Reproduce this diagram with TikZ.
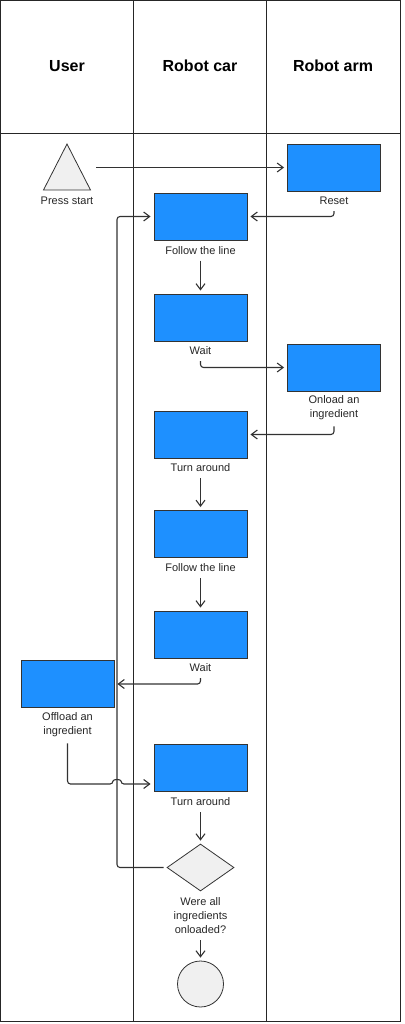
\documentclass[tikz,border=0pt]{standalone}
\usepackage{fontspec}
\setmainfont{Liberation Sans}
\usetikzlibrary{arrows.meta,shapes.geometric}
\definecolor{boxblue}{RGB}{30,144,255}
\definecolor{shapegray}{RGB}{240,240,240}
\definecolor{linegray}{RGB}{50,50,50}
\begin{document}
\begin{tikzpicture}[x=1pt,y=-1pt,
  lane/.style={draw=black!85, line width=1pt},
  head/.style={font=\fontsize{16}{18}\selectfont\bfseries, text=black},
  actbox/.style={draw=black!80, fill=boxblue, minimum width=93pt, minimum height=47pt, inner sep=0pt, line width=0.9pt},
  lbl/.style={font=\fontsize{11}{14}\selectfont, text=black!85, align=center, inner sep=1pt},
  misc/.style={draw=black!80, fill=shapegray, line width=0.8pt, inner sep=0pt},
  arr/.style={draw=linegray, line width=1.1pt, -{Straight Barb[length=6pt,width=9pt]}, rounded corners=3pt, shorten <=5pt, shorten >=3pt}
]
\useasboundingbox (0,0) rectangle (404,1024);
% lanes
\draw[lane] (0.5,0.5) rectangle (400.5,1021);
\draw[lane] (133.5,0.5) -- (133.5,1021);
\draw[lane] (266.5,0.5) -- (266.5,1021);
\draw[lane] (0.5,133.5) -- (400.5,133.5);
\node[head] (hu) at (67,66) {User};
\node[head] (hc) at (200,66) {Robot car};
\node[head] (ha) at (333,66) {Robot arm};
% start triangle
\draw[misc] (67,144) -- (90.5,190) -- (43.5,190) -- cycle;
\coordinate (startout) at (96,167.5);
\node[lbl] (prs) at (67,201) {Press start};
% boxes
\node[actbox] (reset) at (334,167.5) {};
\node[lbl] (resetl) at (334,201) {Reset};
\node[actbox] (fol1) at (200.5,216.5) {};
\node[lbl] (fol1l) at (200.5,250.5) {Follow the line};
\node[actbox] (wait1) at (200.5,317.5) {};
\node[lbl] (wait1l) at (200.5,351) {Wait};
\node[actbox] (onl) at (334,367.5) {};
\node[lbl] (onll) at (334,408) {Onload an\\ingredient};
\node[actbox] (turn1) at (200.5,434.5) {};
\node[lbl] (turn1l) at (200.5,468) {Turn around};
\node[actbox] (fol2) at (200.5,534) {};
\node[lbl] (fol2l) at (200.5,568) {Follow the line};
\node[actbox] (wait2) at (200.5,634.5) {};
\node[lbl] (wait2l) at (200.5,668) {Wait};
\node[actbox] (off) at (67.5,684) {};
\node[lbl] (offl) at (67.5,725) {Offload an\\ingredient};
\node[actbox] (turn2) at (200.5,768) {};
\node[lbl] (turn2l) at (200.5,802) {Turn around};
\node[misc, diamond, minimum width=67pt, minimum height=47pt] (dia) at (200.5,867.5) {};
\node[lbl] (dial) at (200.5,916) {Were all\\ingredients\\onloaded?};
\node[misc, circle, minimum size=46pt] (endc) at (200.5,984) {};
% connectors
\draw[arr, shorten <=0pt] (startout) -- (reset.west);
\draw[arr] (resetl.south) |- (fol1.east);
\draw[arr] (fol1l.south) -- (wait1.north);
\draw[arr] (wait1l.south) |- (onl.west);
\draw[arr] (onll.south) |- (turn1.east);
\draw[arr] (turn1l.south) -- (fol2.north);
\draw[arr] (fol2l.south) -- (wait2.north);
\draw[arr] (wait2l.south) |- (off.east);
\coordinate (jumpL) at (113,784);
\coordinate (jumpR) at (121,784);
\draw[arr] (offl.south) |- (jumpL) .. controls (113,779) and (121,779) .. (jumpR) -- ([yshift=-16pt]turn2.west);
\draw[arr] (turn2l.south) -- (dia.north);
\coordinate (loopx) at (117,867.5);
\draw[arr, shorten <=3pt] (dia.west) -- (loopx) |- (fol1.west);
\draw[arr] (dial.south) -- (endc.north);
\end{tikzpicture}
\end{document}
